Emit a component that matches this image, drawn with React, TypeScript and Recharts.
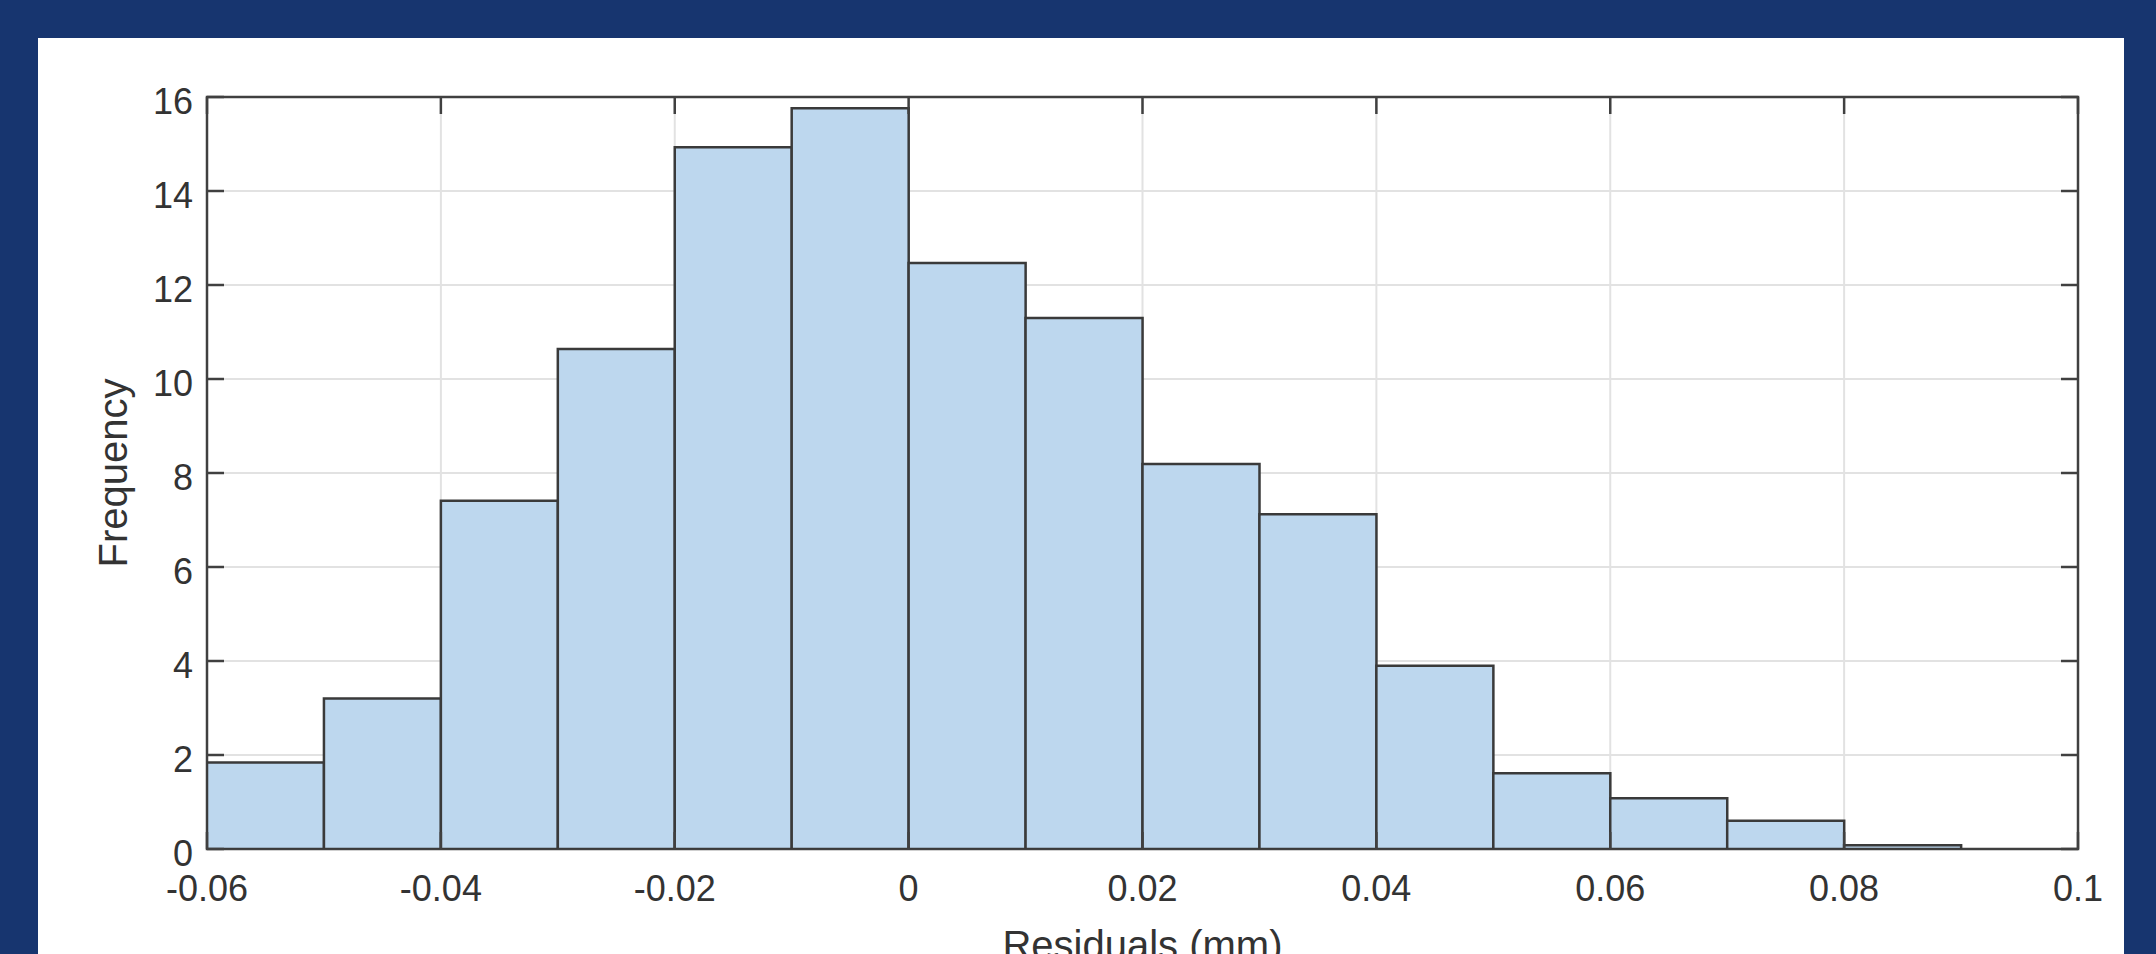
import React from 'react'
import { BarChart, Bar, XAxis, YAxis, CartesianGrid, Label, ReferenceArea } from 'recharts'

// histogram bins: left edges (mm), bin width 0.01
const binStarts = [-0.06, -0.05, -0.04, -0.03, -0.02, -0.01, 0, 0.01, 0.02, 0.03, 0.04, 0.05, 0.06, 0.07, 0.08, 0.09]
const frequency = [1.84, 3.2, 7.41, 10.64, 14.93, 15.76, 12.47, 11.3, 8.19, 7.12, 3.9, 1.61, 1.08, 0.6, 0.08, null]
const binWidth = 0.01

const xTicks = [-0.06, -0.04, -0.02, 0, 0.02, 0.04, 0.06, 0.08, 0.1]
const yTicks = [0, 2, 4, 6, 8, 10, 12, 14, 16]
const xDomain = [-0.06, 0.1]
const yDomain = [0, 16]

const data = binStarts.map((start, i) => ({ center: start + binWidth / 2, count: frequency[i] }))

// layout (page pixels)
const W = 2156
const H = 954
const PLOT_LEFT = 207
const PLOT_TOP = 97
const PLOT_RIGHT = 2078
const PLOT_BOTTOM = 849
const PLOT_W = PLOT_RIGHT - PLOT_LEFT
const PLOT_H = PLOT_BOTTOM - PLOT_TOP

const FONT = '"Liberation Sans", Arial, Helvetica, sans-serif'
const INK = '#333333'
const AXIS = '#404040'
const TICK_LEN = 17

// MATLAB-style box: ticks point inwards on both opposite sides
function BottomTick({ x, y, payload }: any) {
  return (
    <g>
      <line x1={x} y1={y} x2={x} y2={y - TICK_LEN} stroke={AXIS} strokeWidth={2.5} />
      <line x1={x} y1={y - PLOT_H} x2={x} y2={y - PLOT_H + TICK_LEN} stroke={AXIS} strokeWidth={2.5} />
      <text x={x} y={y + 52} textAnchor="middle" fontSize={36} fontFamily={FONT} fill={INK}>
        {String(payload.value)}
      </text>
    </g>
  )
}

function LeftTick({ x, y, payload }: any) {
  return (
    <g>
      <line x1={x} y1={y} x2={x + TICK_LEN} y2={y} stroke={AXIS} strokeWidth={2.5} />
      <line x1={x + PLOT_W} y1={y} x2={x + PLOT_W - TICK_LEN} y2={y} stroke={AXIS} strokeWidth={2.5} />
      <text x={x - 14} y={y + 17} textAnchor="end" fontSize={36} fontFamily={FONT} fill={INK}>
        {String(payload.value)}
      </text>
    </g>
  )
}

export default function App() {
  return (
    <div style={{ position: 'absolute', left: 0, top: 0, width: W, height: H, background: '#17356f', overflow: 'hidden' }}>
      <div style={{ position: 'absolute', left: 38, top: 38, width: 2086, height: 930, background: '#ffffff' }} />
      <div style={{ position: 'absolute', left: 0, top: 0 }}>
        <BarChart
          width={W}
          height={H}
          data={data}
          barCategoryGap={0}
          barGap={0}
          margin={{ top: PLOT_TOP, right: W - PLOT_RIGHT, bottom: H - PLOT_BOTTOM - 1, left: PLOT_LEFT - 1 }}
        >
          <CartesianGrid stroke="#e2e2e2" strokeWidth={2} />
          <XAxis
            dataKey="center"
            type="number"
            domain={xDomain}
            ticks={xTicks}
            allowDataOverflow
            interval={0}
            height={1}
            tickSize={0}
            tickMargin={0}
            tickLine={false}
            tick={<BottomTick />}
            axisLine={false}
          >
            <Label
              content={({ viewBox }: any) => (
                <text
                  x={viewBox.x + viewBox.width / 2}
                  y={PLOT_BOTTOM + 110}
                  textAnchor="middle"
                  fontSize={40}
                  fontFamily={FONT}
                  fill={INK}
                >
                  Residuals (mm)
                </text>
              )}
            />
          </XAxis>
          <YAxis
            type="number"
            domain={yDomain}
            ticks={yTicks}
            allowDataOverflow
            interval={0}
            width={1}
            tickSize={0}
            tickMargin={0}
            tickLine={false}
            tick={<LeftTick />}
            axisLine={false}
          >
            <Label
              content={() => {
                const cx = PLOT_LEFT - 80
                const cy = PLOT_TOP + PLOT_H / 2
                return (
                  <text
                    x={cx}
                    y={cy}
                    transform={`rotate(-90, ${cx}, ${cy})`}
                    textAnchor="middle"
                    fontSize={40}
                    fontFamily={FONT}
                    fill={INK}
                  >
                    Frequency
                  </text>
                )
              }}
            />
          </YAxis>
          <Bar
            dataKey="count"
            fill="#bdd7ee"
            stroke="#3a3a3a"
            strokeWidth={2.5}
            isAnimationActive={false}
          />
          <ReferenceArea
            x1={xDomain[0]}
            x2={xDomain[1]}
            y1={yDomain[0]}
            y2={yDomain[1]}
            fill="none"
            stroke={AXIS}
            strokeWidth={2.5}
          />
        </BarChart>
      </div>
    </div>
  )
}
